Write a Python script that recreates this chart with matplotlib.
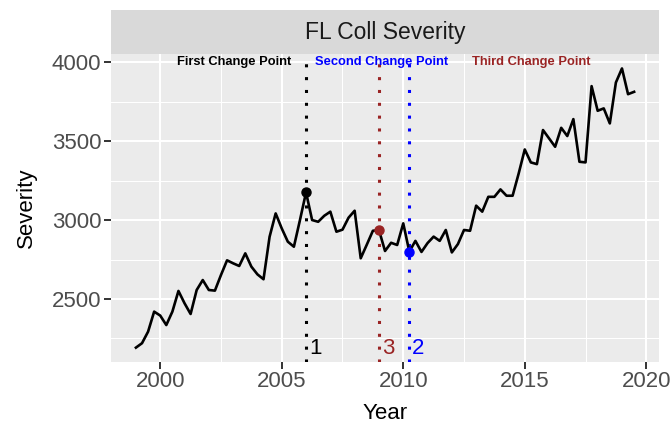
import numpy as np
import matplotlib
matplotlib.use('Agg')
import matplotlib.pyplot as plt

plt.rcParams['font.family'] = ['Liberation Sans', 'DejaVu Sans']

# Dati trimestrali 1999 - 2019
year = np.arange(83) * 0.25 + 1999.0
severity = [2192, 2220, 2293, 2420, 2395, 2335, 2420, 2551, 2473, 2405,
            2557, 2620, 2557, 2553, 2652, 2745, 2726, 2709, 2789, 2705,
            2656, 2625, 2894, 3042, 2947, 2863, 2831, 3000, 3175, 3000,
            2989, 3027, 3053, 2926, 2939, 3015, 3059, 2758, 2844, 2932,
            2937, 2804, 2856, 2842, 2979, 2800, 2868, 2798, 2854, 2895,
            2868, 2937, 2795, 2848, 2937, 2932, 3091, 3053, 3147, 3147,
            3194, 3154, 3154, 3295, 3447, 3365, 3354, 3570, 3517, 3464,
            3584, 3532, 3639, 3369, 3365, 3848, 3692, 3707, 3612, 3871,
            3960, 3797, 3812]

# Change points
cp_year = [2006.0, 2010.25, 2009.0]
cp_value = [3175, 2800, 2937]
cp_label = ['1', '2', '3']
cp_name = ['First Change Point', 'Second Change Point', 'Third Change Point']
cp_name_x = [2003.05, 2009.1, 2015.25]
cp_color = ['black', 'blue', '#9A2424']

fig = plt.figure(figsize=(6.72, 4.24), dpi=100)
ax = fig.add_axes([0.1652, 0.1472, 0.8155, 0.7243])
strip = fig.add_axes([0.1652, 0.8715, 0.8155, 0.1050])

ax.set_facecolor('#EBEBEB')
for s in ax.spines.values():
    s.set_visible(False)
ax.set_xlim(1997.975, 2020.525)
ax.set_ylim(2103.6, 4048.4)
ax.set_xticks([2000, 2005, 2010, 2015, 2020])
ax.set_yticks([2500, 3000, 3500, 4000])
ax.set_xticks([2002.5, 2007.5, 2012.5, 2017.5], minor=True)
ax.set_yticks([2250, 2750, 3250, 3750], minor=True)
ax.grid(which='major', color='white', lw=1.5)
ax.grid(which='minor', color='white', lw=0.75)
ax.set_axisbelow(True)
ax.tick_params(which='major', length=5, width=1.4, color='#333333',
               labelsize=16, labelcolor='#4D4D4D', pad=2)
ax.tick_params(which='minor', length=0)
ax.set_xlabel('Year', fontsize=16, labelpad=8)
ax.set_ylabel('Severity', fontsize=16, labelpad=11)

ax.plot(year, severity, color='black', lw=1.9, zorder=3)

for i in range(3):
    ax.axvline(cp_year[i], color=cp_color[i], lw=2.2, ls=(0, (1, 3.2)), zorder=2)
    ax.plot(cp_year[i], cp_value[i], 'o', color=cp_color[i], ms=6.5, zorder=4)
    ax.text(cp_year[i] + 0.12, 2184, cp_label[i], color=cp_color[i],
            fontsize=16, ha='left', va='center')
    ax.text(cp_name_x[i], 4000, cp_name[i], color=cp_color[i],
            fontsize=9.3, fontweight='bold', ha='center', va='center')

strip.set_facecolor('#D9D9D9')
strip.set_xticks([])
strip.set_yticks([])
for s in strip.spines.values():
    s.set_visible(False)
strip.text(0.5, 0.5, 'FL Coll Severity', transform=strip.transAxes,
           ha='center', va='center', fontsize=16.5, color='#1A1A1A')

fig.savefig('out.png', dpi=100)
